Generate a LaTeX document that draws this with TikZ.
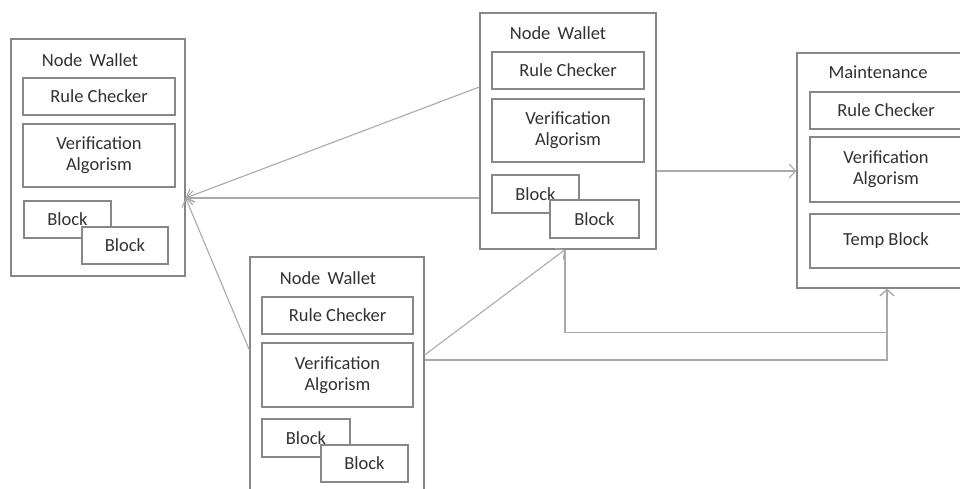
\documentclass[tikz,border=0pt]{standalone}
\usepackage{fontspec}
\setmainfont{Carlito}
\usetikzlibrary{arrows.meta,calc}
\begin{document}
\begin{tikzpicture}[x=1pt,y=-1pt,
  wallet/.style={draw=boxgray,line width=1.3pt,fill=white,inner sep=0pt},
  part/.style={draw=boxgray,line width=1.3pt,fill=white,inner sep=0pt,minimum width=152pt,align=center,text=txtgray},
  title/.style={text=txtgray,inner sep=0pt},
  link/.style={draw=linkgray,line width=1.1pt},
  >={Straight Barb[length=6.5pt,width=14pt]}]
\definecolor{boxgray}{RGB}{135,135,135}
\definecolor{linkgray}{RGB}{170,170,170}
\definecolor{txtgray}{RGB}{50,50,50}
\fontsize{18.5}{21}\selectfont
\useasboundingbox (0,0) rectangle (960,488);
\clip (0,0) rectangle (960,488);
\node[wallet,minimum width=174pt,minimum height=237pt] (A) at (98,157.5) {};
\node[title] (Atitle) at (90,60) {Node\, Wallet};
\node[part,minimum height=37pt] (Arule) at (99,96.5) {Rule Checker};
\node[part,minimum height=63pt] (Averif) at (99,155.5) {Verification\\Algorism};
\node[part,minimum width=87pt,minimum height=37pt] (Ablock1) at (67.5,219.5) {Block};
\node[part,minimum width=86pt,minimum height=37pt] (Ablock2) at (125,245.5) {Block};
\node[wallet,minimum width=176pt,minimum height=236pt] (B) at (568,131) {};
\node[title] (Btitle) at (558,33) {Node\, Wallet};
\node[part,minimum height=37pt] (Brule) at (568,70.5) {Rule Checker};
\node[part,minimum height=63pt] (Bverif) at (568,130.5) {Verification\\Algorism};
\node[part,minimum width=87pt,minimum height=38pt] (Bblock1) at (535.5,194) {Block};
\node[part,minimum width=89pt,minimum height=38pt] (Bblock2) at (594.5,219) {Block};
\node[wallet,minimum width=174pt,minimum height=238pt] (C) at (337,376) {};
\node[title] (Ctitle) at (328,278) {Node\, Wallet};
\node[part,minimum width=151pt,minimum height=37pt] (Crule) at (337.5,315.5) {Rule Checker};
\node[part,minimum width=151pt,minimum height=64pt] (Cverif) at (337.5,375) {Verification\\Algorism};
\node[part,minimum width=88pt,minimum height=38pt] (Cblock1) at (306,438) {Block};
\node[part,minimum width=87pt,minimum height=37pt] (Cblock2) at (364.5,463.5) {Block};
\node[wallet,minimum width=176pt,minimum height=235pt] (D) at (885,170.5) {};
\node[title] (Dtitle) at (878,72) {Maintenance};
\node[part,minimum height=37pt] (Drule) at (886,110.5) {Rule Checker};
\node[part,minimum height=65pt] (Dverif) at (886,169.5) {Verification\\Algorism};
\node[part,minimum height=54pt] (Dtemp) at (886,241) {Temp Block};
\coordinate (aIn) at ([yshift=-40.5pt]A.east);
\coordinate (bIn) at ([xshift=-3pt]B.south);
\coordinate (dIn) at ([xshift=2pt]D.south);
\draw[link,->] ([yshift=44pt]B.west) -- (aIn);
\draw[link,->] ([yshift=-67pt]B.west) -- (aIn);
\draw[link,->] ([yshift=26pt]C.west) -- (aIn);
\draw[link,->] ([yshift=21pt]C.east) -- (bIn);
\draw[link,->] (bIn) |- ($(dIn)+(0,44)$) -- (dIn);
\draw[link,->] ([yshift=16pt]C.east) -| (dIn);
\draw[link,->] ([yshift=-40pt]B.east) -- ([yshift=-40pt]B.east -| D.west);
\end{tikzpicture}
\end{document}
